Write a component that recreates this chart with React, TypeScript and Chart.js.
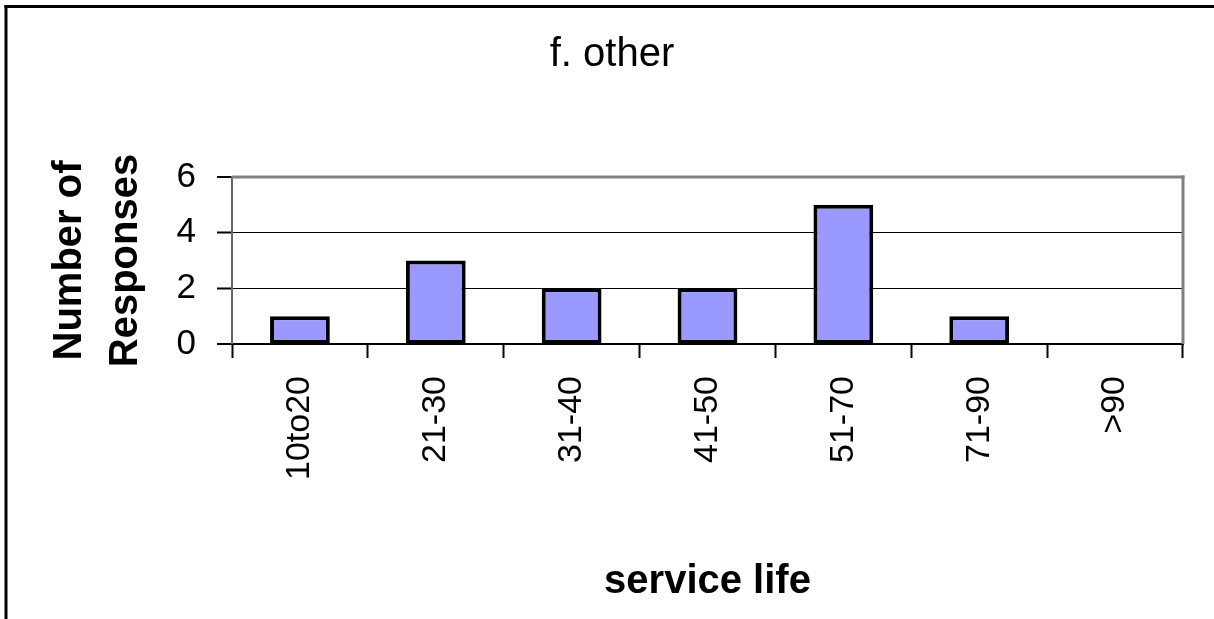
import React, { useEffect, useRef } from 'react';
import { Chart, registerables } from 'chart.js';

Chart.register(...registerables);

const categories = ['10to20', '21-30', '31-40', '41-50', '51-70', '71-90', '>90'];
const responses = [1, 3, 2, 2, 5, 1, 0];
const yMin = 0;
const yMax = 6;
const yStep = 2;
const chartTitle = 'f. other';
const xTitle = 'service life';
const yTitle = ['Number of', 'Responses'];

const FONT = '"Liberation Sans", Arial, Helvetica, sans-serif';

const framePlugin = {
  id: 'frame',
  afterDraw(chart: any) {
    const { ctx, chartArea } = chart;
    ctx.save();
    // outer frame (left and top edges)
    ctx.fillStyle = '#000';
    ctx.fillRect(4.5, 5, 3, 614);
    ctx.fillRect(4.5, 5, 1210, 3);
    // plot-area border, top and right
    ctx.fillStyle = '#808080';
    ctx.fillRect(chartArea.left, chartArea.top - 1.5, chartArea.right - chartArea.left + 1.5, 3);
    ctx.fillRect(chartArea.right - 1.5, chartArea.top - 1.5, 3, chartArea.bottom - chartArea.top + 1.5);
    ctx.restore();
  },
};

export default function App() {
  const ref = useRef<HTMLCanvasElement | null>(null);

  useEffect(() => {
    if (!ref.current) return;
    const chart = new Chart(ref.current, {
      type: 'bar',
      data: {
        labels: categories,
        datasets: [
          {
            data: responses,
            backgroundColor: '#9999FF',
            borderColor: '#000000',
            borderWidth: 4,
            borderSkipped: false,
            barPercentage: 0.44,
            categoryPercentage: 1,
          },
        ],
      },
      options: {
        animation: false,
        responsive: false,
        devicePixelRatio: 1,
        layout: { padding: { left: 41, right: 31, top: 0, bottom: 0 } },
        plugins: {
          legend: { display: false },
          tooltip: { enabled: false },
          title: {
            display: true,
            text: chartTitle,
            color: '#000',
            font: { family: FONT, size: 40, weight: 'normal', lineHeight: 1.2 },
            padding: { top: 31, bottom: 98 },
          },
        },
        scales: {
          x: {
            offset: true,
            afterFit: (s: any) => {
              s.height = 275;
            },
            grid: {
              offset: true,
              drawOnChartArea: false,
              drawTicks: true,
              tickLength: 14,
              tickColor: '#000',
              tickWidth: 2,
              color: '#000',
            },
            border: { display: true, color: '#000', width: 2 },
            ticks: {
              autoSkip: false,
              maxRotation: 90,
              minRotation: 90,
              padding: 18,
              color: '#000',
              font: { family: FONT, size: 34 },
            },
            title: {
              display: true,
              text: xTitle,
              color: '#000',
              font: { family: FONT, size: 40, weight: 'bold', lineHeight: 1.2 },
              padding: { top: 0, bottom: 13 },
            },
          },
          y: {
            min: yMin,
            max: yMax,
            afterFit: (s: any) => {
              s.width = 191;
            },
            ticks: {
              stepSize: yStep,
              padding: 21,
              color: '#000',
              font: { family: FONT, size: 35 },
            },
            grid: {
              drawTicks: true,
              tickLength: 15,
              tickColor: '#000',
              tickWidth: 2,
              color: '#000',
              lineWidth: (c: any) =>
                c.tick && (c.tick.value === yMax || c.tick.value === yMin) ? 0 : 1,
            },
            border: { display: true, color: '#666', width: 2 },
            title: {
              display: true,
              text: yTitle,
              color: '#000',
              font: { family: FONT, size: 40, weight: 'bold', lineHeight: 1.4 },
              padding: { top: 1, bottom: 0 },
            },
          },
        },
      },
      plugins: [framePlugin],
    } as any);
    return () => chart.destroy();
  }, []);

  return (
    <div style={{ position: 'absolute', left: 0, top: 0, width: 1214, height: 619, background: '#fff' }}>
      <canvas ref={ref} width={1214} height={619} style={{ width: 1214, height: 619, display: 'block' }} />
    </div>
  );
}
